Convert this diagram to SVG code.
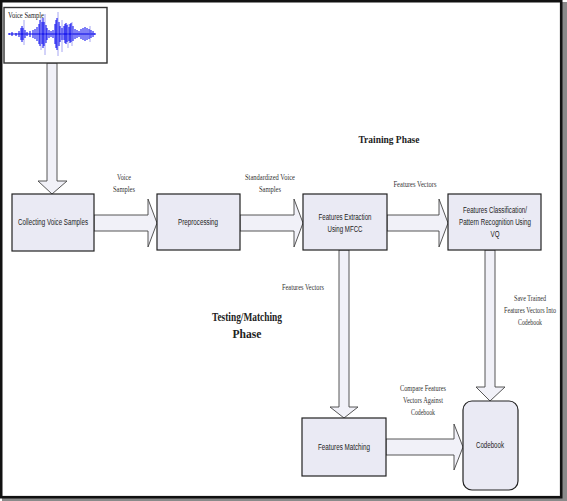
<svg xmlns="http://www.w3.org/2000/svg" width="567" height="501" viewBox="0 0 567 501">
<style>
.box{fill:#EAEAF4;stroke:#222;stroke-width:1.2}
.arr{fill:#F1F1F8;stroke:#444;stroke-width:0.9}
.bt{font-family:"Liberation Sans",Arial,sans-serif;font-size:8.5px;fill:#222;text-anchor:middle}
.lt{font-family:"Liberation Serif","Times New Roman",serif;font-size:7.5px;fill:#333;text-anchor:middle}
.ph{font-family:"Liberation Serif","Times New Roman",serif;font-weight:bold;fill:#222;text-anchor:middle}
</style>
<rect x="0" y="0" width="567" height="501" fill="#fff"/>
<rect x="562" y="2" width="5" height="499" fill="#8a8a8a"/>
<rect x="2" y="498" width="565" height="3" fill="#8a8a8a"/>
<rect x="1.2" y="1.2" width="560" height="496" fill="none" stroke="#111" stroke-width="2.6"/>

<g id="connectors">
<polygon class="arr" points="47,63 57,63 57,181 67,181 52,194 38,181 47,181"/>
<polygon class="arr" points="94,215 148,215 148,199 157,223 148,247 148,231 94,231"/>
<polygon class="arr" points="240,215 294,215 294,199 303,223 294,247 294,231 240,231"/>
<polygon class="arr" points="387,215 439,215 439,199 448,223 439,247 439,231 387,231"/>
<polygon class="arr" points="339,250 349,250 349,407 358,407 344,418 330,407 339,407"/>
<polygon class="arr" points="485,250 495,250 495,387 505,387 490,401 476,387 485,387"/>
<polygon class="arr" points="386,439 454,439 454,424 463,447 454,470 454,455 386,455"/>
<text class="lt" x="124" y="180" textLength="14" lengthAdjust="spacingAndGlyphs">Voice</text>
<text class="lt" x="124" y="192" textLength="22" lengthAdjust="spacingAndGlyphs">Samples</text>
<text class="lt" x="270" y="180" textLength="50" lengthAdjust="spacingAndGlyphs">Standardized Voice</text>
<text class="lt" x="270" y="192" textLength="22" lengthAdjust="spacingAndGlyphs">Samples</text>
<text class="lt" x="415" y="187" textLength="43" lengthAdjust="spacingAndGlyphs">Features Vectors</text>
<text class="lt" x="303" y="290" textLength="42" lengthAdjust="spacingAndGlyphs">Features Vectors</text>
<text class="lt" x="530" y="301" textLength="32" lengthAdjust="spacingAndGlyphs">Save Trained</text>
<text class="lt" x="530" y="313" textLength="52" lengthAdjust="spacingAndGlyphs">Features Vectors Into</text>
<text class="lt" x="530" y="325" textLength="24" lengthAdjust="spacingAndGlyphs">Codebook</text>
<text class="lt" x="423" y="391" textLength="46" lengthAdjust="spacingAndGlyphs">Compare Features</text>
<text class="lt" x="423" y="403" textLength="40" lengthAdjust="spacingAndGlyphs">Vectors Against</text>
<text class="lt" x="423" y="415" textLength="24" lengthAdjust="spacingAndGlyphs">Codebook</text>
</g>

<text class="ph" x="389" y="143" font-size="11" textLength="61" lengthAdjust="spacingAndGlyphs">Training Phase</text>
<text class="ph" x="247" y="321" font-size="12" textLength="70" lengthAdjust="spacingAndGlyphs">Testing/Matching</text>
<text class="ph" x="247" y="338" font-size="12" textLength="29" lengthAdjust="spacingAndGlyphs">Phase</text>

<g id="voice-sample">
<rect x="4" y="7.5" width="103" height="55.5" fill="#fff" stroke="#333" stroke-width="1.4"/>
<path d="M9,34 L95,34" stroke="#1010e0" stroke-width="1.2"/>
<path stroke="#9090f0" stroke-width="0.8" fill="none" d="M24,20 L24,45 M41,18 L41,50 M45,14 L45,55 M58,12 L58,56 M62,20 L62,52 M68,24 L68,48 M72,22 L72,46 M90,26 L90,42"/>
<path stroke="#0000ee" stroke-width="1" fill="none" d="M9,33 L9,35 M12,32 L12,36 M16,33 L16,36 M19,31 L19,37 M21,28 L21,40 M22,26 L22,42 M23,28 L23,40 M25,30 L25,38 M27,32 L27,36 M30,31 L30,37 M33,30 L33,38 M35,29 L35,39 M37,27 L37,41 M39,24 L39,44 M40,20 L40,46 M42,22 L42,44 M43,18 L43,48 M44,22 L44,46 M46,25 L46,43 M47,28 L47,40 M49,30 L49,38 M51,31 L51,37 M53,30 L53,38 M55,24 L55,44 M56,20 L56,48 M57,18 L57,50 M59,22 L59,46 M60,26 L60,42 M62,28 L62,40 M64,26 L64,40 M65,24 L65,43 M66,23 L66,44 M67,25 L67,42 M69,27 L69,41 M70,24 L70,43 M71,23 L71,42 M73,26 L73,41 M75,29 L75,39 M77,30 L77,38 M79,31 L79,37 M81,29 L81,39 M83,28 L83,40 M85,27 L85,41 M87,28 L87,40 M89,29 L89,39 M91,30 L91,38 M93,31 L93,37 M95,33 L95,35"/>
<text x="8" y="18" font-family="'Liberation Serif','Times New Roman',serif" font-size="9" fill="#222" textLength="36" lengthAdjust="spacingAndGlyphs">Voice Sample</text>
</g>

<g id="collecting">
<rect class="box" x="12" y="194" width="82" height="57"/>
<text class="bt" x="53" y="225" textLength="70" lengthAdjust="spacingAndGlyphs">Collecting Voice Samples</text>
</g>
<g id="preprocessing">
<rect class="box" x="157" y="194" width="83" height="56"/>
<text class="bt" x="198" y="225" textLength="40" lengthAdjust="spacingAndGlyphs">Preprocessing</text>
</g>
<g id="extraction">
<rect class="box" x="303" y="194" width="84" height="56"/>
<text class="bt" x="345" y="220" textLength="53" lengthAdjust="spacingAndGlyphs">Features Extraction</text>
<text class="bt" x="345" y="232" textLength="35" lengthAdjust="spacingAndGlyphs">Using MFCC</text>
</g>
<g id="classification">
<rect class="box" x="448" y="194" width="93" height="56"/>
<text class="bt" x="495" y="213" textLength="64" lengthAdjust="spacingAndGlyphs">Features Classification/</text>
<text class="bt" x="495" y="225" textLength="72" lengthAdjust="spacingAndGlyphs">Pattern Recognition Using</text>
<text class="bt" x="495" y="237" textLength="9" lengthAdjust="spacingAndGlyphs">VQ</text>
</g>
<g id="matching">
<rect class="box" x="302" y="418" width="84" height="58"/>
<text class="bt" x="344" y="450" textLength="52" lengthAdjust="spacingAndGlyphs">Features Matching</text>
</g>
<g id="codebook">
<rect class="box" x="463" y="401" width="55" height="89" rx="9" ry="9"/>
<text class="bt" x="490" y="448" textLength="28" lengthAdjust="spacingAndGlyphs">Codebook</text>
</g>
</svg>
